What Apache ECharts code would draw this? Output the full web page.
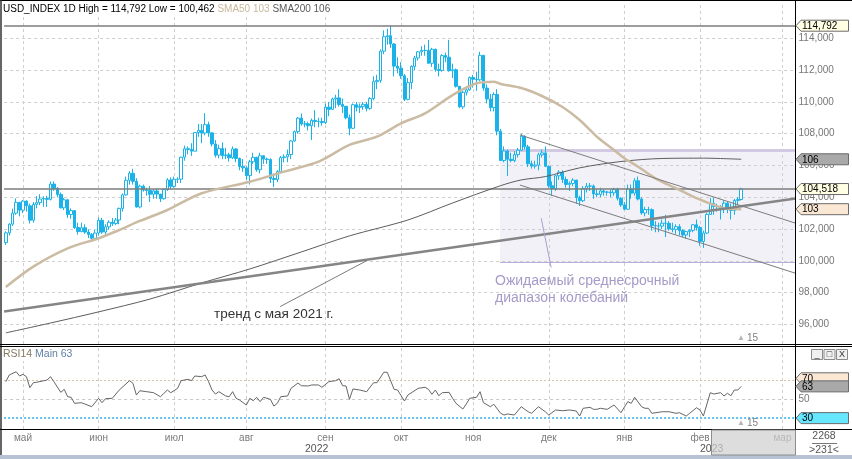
<!DOCTYPE html>
<html><head><meta charset="utf-8">
<script src="https://cdn.jsdelivr.net/npm/echarts@6/dist/echarts.min.js"></script>
<style>html,body{margin:0;padding:0;background:#fff}#c{width:852px;height:459px}</style>
</head><body><div id="c"></div>
<script>
// ---------- tick labels ----------
const monthLabels = ['май','июн','июл','авг','сен','окт','ноя','дек','янв','фев','мар'];
const monthIdx    = [5,27,49,70,93,115,136,158,180,202,226];
const priceTicks  = [96,98,100,102,104,106,108,110,112,114];
const rsiTicks    = [50];
const rsiLevels   = [70,50,30];

// ---------- daily bars (25.04.2022 - 17.02.2023) ----------
const open = [101.15,101.76,102.31,103.00,103.68,103.19,103.76,103.46,102.56,103.55,103.66,103.89,103.92,103.87,104.83,104.56,104.18,103.34,103.84,102.91,103.16,102.10,101.84,102.08,101.81,101.66,101.42,
101.75,102.55,101.81,102.14,102.43,102.35,102.57,103.30,104.15,105.07,105.51,105.00,103.39,104.70,104.45,104.43,104.19,104.40,104.20,103.91,104.48,105.09,
104.69,105.13,105.14,106.52,107.05,107.01,106.90,108.07,108.20,108.04,108.57,108.05,107.35,106.65,107.06,106.62,106.67,106.48,107.04,106.44,105.94,
105.85,105.36,106.23,106.51,105.73,106.61,106.40,106.37,105.18,105.12,105.61,106.49,106.54,106.69,107.54,108.13,108.98,108.61,108.62,108.50,108.84,108.77,108.76,
108.70,109.67,109.53,110.18,110.25,109.84,109.72,109.00,108.34,109.82,109.66,109.72,109.85,109.59,110.21,111.27,111.35,113.19,114.10,114.16,113.64,112.25,
112.12,111.64,110.16,111.21,112.23,112.76,113.15,113.24,113.23,112.43,113.31,112.04,111.98,112.91,112.81,111.96,112.02,110.98,109.69,110.60,110.76,
111.53,111.43,111.39,112.93,110.87,110.18,109.64,110.47,108.16,106.31,106.91,106.39,106.31,106.68,106.96,107.84,107.17,106.11,105.96,106.02,106.67,106.79,
105.95,104.72,104.55,105.35,105.58,105.12,104.81,104.87,105.08,103.98,103.78,104.55,104.70,104.71,104.21,104.18,104.40,104.32,104.33,104.28,104.49,103.94,
103.52,103.25,104.52,104.26,105.04,103.89,103.01,103.23,103.22,102.21,102.20,102.19,102.37,102.36,102.01,101.98,102.15,101.90,101.63,101.84,101.92,102.27,
102.10,101.22,101.75,102.92,103.62,103.42,103.42,103.24,103.63,103.23,103.17,103.80,103.86];
const high = [101.86,102.37,103.28,103.93,103.70,103.83,103.80,103.60,103.70,104.07,104.19,104.06,104.09,104.99,105.00,104.64,104.30,103.95,103.90,103.30,103.20,102.40,102.40,102.30,101.98,101.75,101.95,
102.73,102.70,102.30,102.55,102.70,102.70,103.35,104.24,105.30,105.65,105.79,105.20,104.80,104.80,104.60,104.70,104.50,104.55,104.20,104.55,105.20,105.25,
105.30,105.25,106.55,107.25,107.20,107.40,108.10,108.60,108.60,109.29,108.75,108.10,107.60,107.30,107.45,107.10,106.80,107.20,107.10,106.50,106.40,
105.95,106.35,106.80,106.55,106.80,106.65,106.50,106.45,105.50,105.70,106.60,106.70,107.00,107.60,108.20,109.05,109.27,108.80,108.75,108.95,109.48,109.00,109.00,
109.90,110.00,110.27,110.45,110.79,110.20,109.75,109.20,109.90,110.00,109.90,110.00,110.00,110.30,111.60,111.70,113.30,114.50,114.60,114.79,113.70,112.80,
112.50,111.75,111.50,112.30,112.90,113.20,113.50,113.60,113.90,113.40,113.35,112.40,113.00,113.10,113.90,112.40,112.10,111.00,110.70,111.00,111.60,
111.70,111.90,113.15,112.95,111.10,110.50,110.60,110.80,108.30,107.20,107.00,106.80,106.90,107.10,107.99,107.90,107.30,106.30,106.30,106.80,107.00,107.20,
106.00,105.00,105.40,105.70,105.70,105.30,105.00,105.20,105.10,104.10,104.70,104.90,104.90,104.80,104.50,104.60,104.50,104.40,104.50,104.60,104.60,104.00,
103.70,104.80,104.80,105.20,105.30,104.00,103.40,103.40,103.30,102.50,102.40,102.60,102.90,102.50,102.40,102.30,102.30,102.00,101.90,102.00,102.30,102.60,
102.20,101.90,103.00,103.96,103.96,103.60,103.50,103.80,103.70,103.60,103.90,104.00,104.60];
const low = [101.00,101.60,102.20,102.90,102.80,103.00,103.10,102.35,102.40,103.30,103.50,103.40,103.40,103.80,104.40,104.00,103.30,103.20,102.70,102.65,102.00,101.65,101.80,101.70,101.43,101.30,101.30,
101.60,101.70,101.60,101.95,102.20,102.25,102.30,103.10,104.10,104.80,104.80,103.35,103.30,104.35,104.10,103.70,103.90,103.90,103.70,103.85,104.40,104.50,
104.60,104.90,104.90,106.30,106.70,106.60,106.90,107.80,107.40,107.90,107.80,107.20,106.50,106.45,106.40,106.40,106.25,106.40,106.20,105.70,105.60,
105.10,104.80,106.10,105.60,105.50,106.10,106.10,104.90,104.64,104.95,105.50,106.20,106.20,106.40,107.50,108.00,108.50,108.40,108.20,107.60,108.40,108.40,108.50,
108.60,109.10,109.50,109.60,109.70,109.30,108.90,107.90,108.30,109.40,109.30,109.50,109.40,109.50,110.10,110.80,111.20,113.00,113.60,113.40,111.60,111.80,
111.45,110.05,110.10,110.80,112.00,112.60,112.90,112.90,112.50,112.20,111.90,111.60,111.90,112.50,111.90,111.50,110.90,109.60,109.55,110.40,110.70,
110.90,110.70,111.30,110.70,109.90,109.40,109.40,107.90,106.30,106.20,105.34,106.20,106.20,106.50,106.90,107.00,105.90,105.80,105.80,105.70,106.50,105.90,
104.60,104.10,104.40,105.10,104.90,104.60,104.40,104.70,103.60,103.45,103.70,104.30,104.40,103.90,104.00,104.00,104.10,104.10,104.00,104.10,103.80,103.40,
103.20,103.20,103.90,104.10,103.80,102.90,102.80,102.90,101.90,101.80,101.80,102.00,101.50,101.90,101.80,101.70,101.60,101.50,101.40,101.50,101.80,101.90,
100.95,100.82,101.70,102.90,102.90,103.10,102.60,103.00,103.00,102.60,102.90,103.50,103.80];
const close = [101.76,102.31,103.00,103.68,103.19,103.76,103.46,102.56,103.55,103.66,103.89,103.92,103.87,104.83,104.56,104.18,103.34,103.84,102.91,103.16,102.10,101.84,102.08,101.81,101.66,101.42,101.75,
102.55,101.81,102.14,102.43,102.35,102.57,103.30,104.15,105.07,105.51,105.00,103.39,104.70,104.45,104.43,104.19,104.40,104.20,103.91,104.48,105.09,104.69,
105.13,105.14,106.52,107.05,107.01,106.90,108.07,108.20,108.04,108.57,108.05,107.35,106.65,107.06,106.62,106.67,106.48,107.04,106.44,105.94,105.85,
105.36,106.23,106.51,105.73,106.61,106.40,106.37,105.18,105.12,105.61,106.49,106.54,106.69,107.54,108.13,108.98,108.61,108.62,108.50,108.84,108.77,108.76,108.70,
109.67,109.53,110.18,110.25,109.84,109.72,109.00,108.34,109.82,109.66,109.72,109.85,109.59,110.21,111.27,111.35,113.19,114.10,114.16,113.64,112.25,112.12,
111.64,110.16,111.21,112.23,112.76,113.15,113.24,113.23,112.43,113.31,112.04,111.98,112.91,112.81,111.96,112.02,110.98,109.69,110.60,110.76,111.53,
111.43,111.39,112.93,110.87,110.18,109.64,110.47,108.16,106.31,106.91,106.39,106.31,106.68,106.96,107.84,107.17,106.11,105.96,106.02,106.67,106.79,105.95,
104.72,104.55,105.35,105.58,105.12,104.81,104.87,105.08,103.98,103.78,104.55,104.70,104.71,104.21,104.18,104.40,104.32,104.33,104.28,104.49,103.94,103.52,
103.25,104.52,104.26,105.04,103.89,103.01,103.23,103.22,102.21,102.20,102.19,102.37,102.36,102.01,101.98,102.15,101.90,101.63,101.84,101.92,102.27,102.10,
101.22,101.75,102.92,103.62,103.42,103.42,103.24,103.63,103.23,103.17,103.80,103.86,104.518];

// ---------- indicators: [bar, value] ----------
const sma50 = [[0,98.36],[8,99.64],[18,100.79],[27,101.42],[33,101.94],[39,102.51],[47,103.20],[57,104.25],[71,104.98],[81,105.61],[91,106.24],[100,107.29],[108,107.81],[115,108.65],[122,109.28],[130,110.43],[137,111.17],[142,111.27],[144,111.13],[150,110.87],[156,110.37],[162,109.68],[167,108.86],[172,107.81],[177,106.97],[180,106.45],[184,105.92],[189,105.19],[195,104.57],[201,103.94],[206,103.52],[209,103.31],[214,103.25]];
const sma200 = [[0,95.47],[13,96.09],[27,96.79],[42,97.60],[57,98.61],[71,99.49],[86,100.56],[100,101.57],[117,102.57],[130,103.64],[144,104.73],[150,105.09],[157,105.30],[167,105.85],[179,106.25],[191,106.44],[203,106.46],[214,106.39]];
const rsi = [[0,68.5],[1,75.7],[3,79.2],[4,74.6],[5,76.4],[6,73.9],[7,62.1],[8,67.4],[9,67.9],[12,70.3],[13,73.9],[14,68.5],[16,57.1],[17,60.3],[18,52.4],[19,51.8],[20,45.3],[22,46.0],[23,44.6],[25,41.7],[27,50.7],[28,46.0],[29,50.3],[31,50.7],[33,59.6],[36,69.6],[37,66.8],[38,54.2],[39,58.8],[41,57.8],[43,56.7],[45,52.4],[47,59.6],[48,56.7],[50,61.4],[51,69.6],[53,71.1],[54,69.6],[55,74.6],[57,73.9],[58,75.7],[59,68.5],[60,59.6],[61,55.3],[62,57.8],[64,53.2],[65,52.4],[66,57.8],[67,50.7],[68,48.9],[70,43.5],[71,50.7],[72,48.1],[73,51.8],[74,47.1],[75,51.8],[77,49.6],[78,42.4],[79,45.3],[80,52.4],[82,53.2],[83,61.4],[85,67.1],[86,64.2],[88,63.9],[89,65.0],[91,65.0],[92,62.5],[94,68.5],[96,69.6],[97,71.7],[98,64.2],[99,63.9],[100,49.6],[101,60.7],[103,59.6],[105,57.8],[107,67.4],[108,67.4],[110,78.6],[111,78.6],[113,60.3],[114,59.6],[116,47.8],[117,54.2],[120,61.4],[122,62.5],[123,60.3],[124,55.0],[125,59.6],[126,53.5],[127,56.7],[129,57.1],[130,50.7],[131,45.3],[133,39.2],[134,44.6],[135,50.7],[137,51.8],[138,57.8],[139,46.0],[141,41.7],[142,44.3],[144,34.6],[145,32.8],[146,33.9],[148,32.8],[150,41.7],[152,36.3],[153,34.6],[155,41.7],[157,36.3],[158,32.8],[160,38.2],[162,37.4],[164,38.2],[166,37.1],[167,31.7],[168,40.0],[170,41.0],[171,38.9],[172,38.9],[173,40.0],[175,38.9],[177,43.5],[179,35.3],[181,47.1],[182,45.3],[183,51.8],[185,41.7],[186,40.0],[187,40.0],[188,34.6],[191,36.3],[193,36.3],[195,34.6],[196,35.3],[198,31.7],[199,34.6],[201,40.6],[202,38.2],[203,31.7],[205,56.7],[206,55.3],[208,56.7],[209,53.2],[210,56.1],[211,53.5],[212,59.6],[213,59.6],[214,63.5]];

// ---------- drawn objects (bar, value) ----------
const trendLine     = [[-0.5,96.81],[229.8,103.92]];
const channelTop    = [[149.6,107.92],[229.8,102.37]];
const channelBottom = [[149.6,104.77],[229.8,99.22]];
const trendPointer  = [[79.8,97.12],[105.0,100.01]];
const rangePointer  = [[155.8,102.68],[158.7,99.58]];
const rangeBox      = [[143.8,99.89],[229.8,106.93]];
const periodHigh = 114.792;
const lastPrice  = 104.518;

const FONT = "'Liberation Sans', Arial, sans-serif";
const X_MIN = -0.5, X_MAX = 229.8;
const chart = echarts.init(document.getElementById('c'));
const candleData = open.map((o, i) => [i, o, close[i], low[i], high[i]]);

function lineSeries(data, color, width, z, xi) {
  return {type:'line', xAxisIndex:xi||0, yAxisIndex:xi||0, data, showSymbol:false, symbol:'none',
    lineStyle:{color, width}, z: z||4, silent:true, animation:false};
}
const noAxis = {axisLine:{show:false}, axisTick:{show:false}, splitLine:{show:false}};

const option = {
  animation:false,
  backgroundColor:'#ffffff',
  grid:[{left:4.1, top:3, width:791.4, height:341},{left:4.1, top:347, width:791.4, height:82}],
  xAxis:[
    Object.assign({type:'value', gridIndex:0, min:X_MIN, max:X_MAX, axisLabel:{show:false}}, noAxis),
    Object.assign({type:'value', gridIndex:1, min:X_MIN, max:X_MAX,
      axisLabel:{customValues:monthIdx, formatter:v => monthLabels[monthIdx.indexOf(v)] || '',
        color:'#7a7a7a', fontSize:10, fontFamily:FONT, margin:4}}, noAxis)
  ],
  yAxis:[
    Object.assign({type:'value', gridIndex:0, position:'right', min:94.77, max:116.22,
      axisLabel:{customValues:priceTicks, formatter:v => v.toFixed(3).replace('.', ','),
        color:'#777', fontSize:10, fontFamily:FONT, margin:3, padding:[3,0,0,0]}}, noAxis),
    Object.assign({type:'value', gridIndex:1, position:'right', min:17.8, max:105.7,
      axisLabel:{customValues:rsiTicks, formatter:v => String(v), color:'#777', fontSize:10, fontFamily:FONT, margin:3, padding:[2,0,0,0]}}, noAxis)
  ],
  series:[
    // range box
    {type:'line', xAxisIndex:0, yAxisIndex:0, data:[], silent:true, z:1,
      markArea:{silent:true, z:1, itemStyle:{color:'#f3f1f8'},
        data:[[{xAxis:rangeBox[0][0], yAxis:rangeBox[0][1]},{xAxis:rangeBox[1][0], yAxis:rangeBox[1][1]}]]},
      markLine:{silent:true, z:2, symbol:['none','none'], label:{show:false},
        data:[
          [{coord:[rangeBox[0][0], rangeBox[1][1]], lineStyle:{color:'#d2cae3', width:3, type:'solid'}},{coord:[rangeBox[1][0], rangeBox[1][1]]}],
          [{coord:[rangeBox[0][0], rangeBox[0][1]], lineStyle:{color:'#b9addb', width:1, type:'solid'}},{coord:[rangeBox[1][0], rangeBox[0][1]]}]
        ]}},
    // price grid lines
    {type:'line', xAxisIndex:0, yAxisIndex:0, data:[], silent:true, z:2,
      markLine:{silent:true, z:2, symbol:['none','none'], label:{show:false},
        lineStyle:{color:'#cfcfcf', type:[3,3], width:1},
        data:[...priceTicks.map(v => ({yAxis:v})), ...monthIdx.map(v => ({xAxis:v}))]}},
    // rsi grid + levels
    {type:'line', xAxisIndex:1, yAxisIndex:1, data:[], silent:true, z:2,
      markLine:{silent:true, z:2, symbol:['none','none'], label:{show:false},
        lineStyle:{color:'#cfcfcf', type:[3,3], width:1},
        data:[...monthIdx.map(v => ({xAxis:v})),
          {yAxis:rsiLevels[0], lineStyle:{color:'#d9c0a0', type:[2,2], width:1}},
          {yAxis:rsiLevels[1], lineStyle:{color:'#c8c8c8', type:[3,3], width:1}},
          {yAxis:rsiLevels[2], lineStyle:{color:'#2aaee4', type:[2,2], width:1.5}}]}},
    // candles
    {type:'candlestick', xAxisIndex:0, yAxisIndex:0, z:3, barWidth:3, data:candleData,
      encode:{x:0, y:[1,2,3,4]}, silent:true, animation:false,
      itemStyle:{color:'#ffffff', color0:'#1ab2e8', borderColor:'#1ab2e8', borderColor0:'#1ab2e8', borderWidth:1},
      markLine:{silent:true, z:4, symbol:['none','none'], label:{show:false},
        lineStyle:{color:'#7d7d7d', type:'solid', width:1.5},
        data:[{yAxis:periodHigh},{yAxis:lastPrice}]}},
    lineSeries(sma200, '#5c5c5c', 1, 4),
    lineSeries(sma50, '#cbbba2', 2.5, 4),
    lineSeries(trendLine, '#858585', 2.5, 4),
    lineSeries(channelTop, '#7c7c7c', 1, 4),
    lineSeries(channelBottom, '#7c7c7c', 1, 4),
    lineSeries(trendPointer, '#7c7c7c', 1, 4),
    lineSeries(rangePointer, '#ab9fcd', 1, 4),
    lineSeries(rsi, '#666666', 1, 4, 1)
  ]
};
option.series[5].smooth = 0.3;
option.series[4].smooth = 0.3;
chart.setOption(option);

// ---------- frame, texts and price tags ----------
const G = [];
function txt(x, y, text, size, fill, extra) {
  G.push(Object.assign({type:'text', x, y, z:10, style:Object.assign({text, fill, font:size + 'px ' + FONT, verticalAlign:'middle'}, extra||{})}));
}
function tag(y, text, fill) {
  G.push({type:'polygon', z:12, shape:{points:[[796,y],[801,y-5.5],[848.5,y-5.5],[848.5,y+5.5],[801,y+5.5]]},
    style:{fill, stroke:'#6b6b6b', lineWidth:1}});
  G.push({type:'text', z:13, x:802, y:y+0.5, style:{text, fill:'#000', font:'10px ' + FONT, verticalAlign:'middle'}});
}
const py0 = v => chart.convertToPixel({yAxisIndex:0}, v);
const py1 = v => chart.convertToPixel({yAxisIndex:1}, v);

// title rows
G.push({type:'text', x:3, y:3, z:10, style:{
  text:'{a|USD_INDEX 1D High = 114,792 Low = 100,462} {b|SMA50 103} {c|SMA200 106}',
  font:'10px ' + FONT, backgroundColor:'#fff', padding:[1,2,1,0],
  rich:{a:{fill:'#000', font:'10px ' + FONT}, b:{fill:'#c8b79c', font:'10px ' + FONT}, c:{fill:'#5a5a5a', font:'10px ' + FONT}}}});
G.push({type:'text', x:3, y:348, z:10, style:{
  text:'{a|RSI14} {b|Main 63}', font:'10.5px ' + FONT, backgroundColor:'#fff', padding:[1,2,1,0],
  rich:{a:{fill:'#857660', font:'10.5px ' + FONT}, b:{fill:'#5f7fa6', font:'10.5px ' + FONT}}}});

// annotations
txt(214, 314, 'тренд с мая 2021 г.', 13.5, '#333');
txt(495, 281.5, 'Ожидаемый среднесрочный', 14, '#a69ac8');
txt(495, 298.5, 'диапазон колебаний', 14, '#a69ac8');

// markers "15"
txt(737, 338, '▲', 8, '#b5b5b5');
txt(747, 338, '15', 10, '#808080');
txt(737, 423, '▲', 8, '#b5b5b5');
txt(747, 423, '15', 10, '#808080');

// years
txt(305, 449.5, '2022', 10.5, '#555');
txt(700, 449.5, '2023', 10.5, '#555');

// bottom-right counters
txt(824, 436, '2268', 10.5, '#555', {align:'center'});
G.push({type:'line', z:10, shape:{x1:812, y1:443.5, x2:837, y2:443.5}, style:{stroke:'#777', lineWidth:1}});
txt(824, 450, '>231<', 10.5, '#555', {align:'center'});

// frame lines
const L = (x1,y1,x2,y2,c,w) => G.push({type:'line', z:11, shape:{x1,y1,x2,y2}, style:{stroke:c, lineWidth:w}});
L(0,0.5,852,0.5,'#000',1);
L(1,0,1,456,'#333',1.5);
L(795.5,0,795.5,455,'#000',1);
L(0,344.5,852,344.5,'#000',1);
L(0,346.5,852,346.5,'#000',1);
L(0,429.5,852,429.5,'#000',1);
G.push({type:'rect', z:11, shape:{x:0, y:455, width:852, height:4}, style:{fill:'#b7c3d4'}});
// future area in the time scale
G.push({type:'rect', z:11, shape:{x:711.5, y:430, width:84, height:25}, style:{fill:'rgba(208,208,208,0.72)', stroke:'#8c8c8c', lineWidth:1}});

// panel buttons
['_','□','X'].forEach((s, k) => {
  const x = 811.5 + k * 12.5;
  G.push({type:'rect', z:11, shape:{x, y:349.5, width:11, height:10}, style:{fill:'#f0f0f0', stroke:'#8a8a8a', lineWidth:1}});
  G.push({type:'text', z:12, x:x + 5.5, y:354.5, style:{text:s, fill:'#333', font:'9px ' + FONT, align:'center', verticalAlign:'middle'}});
});

// price tags
tag(py0(periodHigh), '114,792', '#ffffe4');
tag(py0(sma200[sma200.length-1][1]), '106', '#a9a9a9');
tag(py0(lastPrice), '104,518', '#ffffe4');
tag(py0(sma50[sma50.length-1][1]), '103', '#fae8d5');
tag(py1(rsiLevels[0]) - 2, '70', '#fae8d5');
tag(py1(rsi[rsi.length-1][1]), '63', '#a9a9a9');
tag(py1(rsiLevels[2]) + 0.5, '30', '#66e6ff');

chart.setOption({graphic:G});
</script></body></html>
